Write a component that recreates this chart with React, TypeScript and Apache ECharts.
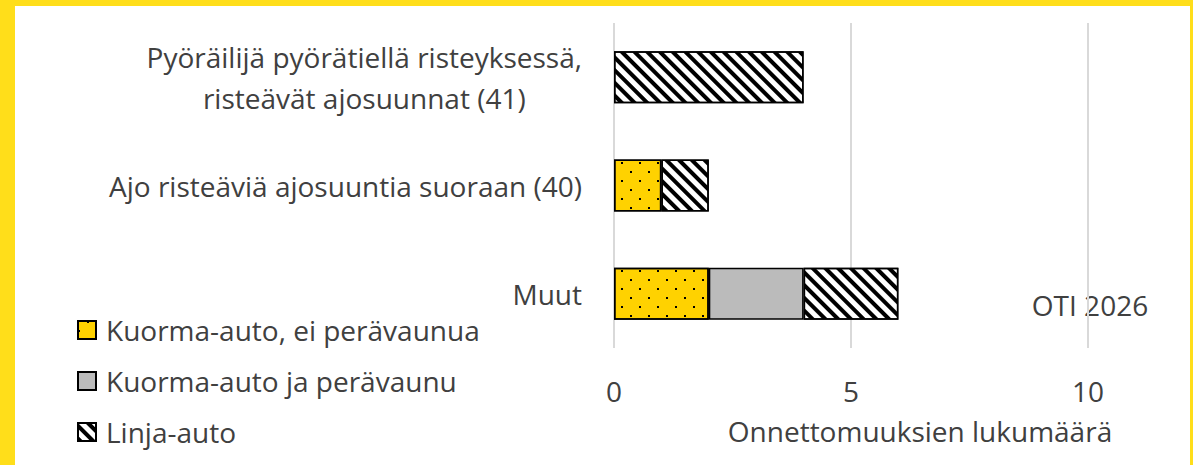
import React, { useEffect, useRef } from "react";
import * as echarts from "echarts";

const categories = [
  "Muut",
  "Ajo risteäviä ajosuuntia suoraan (40)",
  "Pyöräilijä pyörätiellä risteyksessä,\nristeävät ajosuunnat (41)",
];
const seriesNames = ["Kuorma-auto, ei perävaunua", "Kuorma-auto ja perävaunu", "Linja-auto"];
const truckNoTrailer = [2, 1, 0];
const truckTrailer = [2, 0, 0];
const bus = [2, 1, 4];
const xTicks = [0, 5, 10];
const axisName = "Onnettomuuksien lukumäärä";
const sourceNote = "OTI 2026";

const FONT = "'Open Sans', 'Noto Sans', sans-serif";
const TEXT = "#404040";
const YELLOW = "#FFDE1A";
const FS = 28;

const dotDecal = {
  symbol: "rect",
  symbolSize: 1,
  color: "#000",
  dashArrayX: [[1.6, 15.4], [0, 8.5, 1.6, 6.9]],
  dashArrayY: [1.6, 6.8],
  rotation: 0,
};
const stripeDecal = {
  symbol: "rect",
  symbolSize: 1,
  color: "#000",
  dashArrayX: [1, 0],
  dashArrayY: [3.8, 5.0],
  rotation: Math.PI / 4,
};

export default function App() {
  const ref = useRef<HTMLDivElement>(null);
  useEffect(() => {
    if (!ref.current) return;
    const chart = echarts.init(ref.current, undefined, { renderer: "svg" });
    const toData = (arr: number[]) => arr.map((v) => (v === 0 ? null : v));
    const base = {
      type: "bar",
      stack: "total",
      barWidth: 52,
      emphasis: { disabled: true },
    };
    chart.setOption({
      animation: false,
      backgroundColor: "#fff",
      textStyle: { fontFamily: FONT },
      grid: { left: 614, right: 105, top: 23, bottom: 117, containLabel: false },
      xAxis: {
        type: "value",
        min: xTicks[0],
        max: xTicks[xTicks.length - 1],
        interval: 5,
        axisLine: { show: false },
        axisTick: { show: false },
        splitLine: { show: true, lineStyle: { color: "#D9D9D9", width: 2 } },
        axisLabel: { color: TEXT, fontSize: FS, margin: 29, fontFamily: FONT },
      },
      yAxis: {
        type: "category",
        data: categories,
        axisLine: { show: false },
        axisTick: { show: false },
        axisLabel: {
          color: TEXT,
          fontSize: FS,
          margin: 32,
          fontFamily: FONT,
          align: "right",
          formatter: (v: string) => v.split("\n").map((l) => `{c|${l}}`).join("\n"),
          rich: { c: { align: "center", fontSize: FS, lineHeight: 41, color: TEXT, fontFamily: FONT } },
        },
      },
      legend: {
        orient: "vertical",
        left: 72,
        top: 310,
        itemWidth: 18,
        itemHeight: 18,
        itemGap: 21,
        icon: "rect",
        selectedMode: false,
        textStyle: { color: TEXT, fontSize: FS, lineHeight: 30, fontFamily: FONT, padding: [0, 0, 0, 5] },
        data: seriesNames,
      },
      series: [
        {
          ...base,
          name: seriesNames[0],
          data: toData(truckNoTrailer),
          itemStyle: { color: "#FFD200", borderColor: "#000", borderWidth: 1.5, decal: dotDecal },
        },
        {
          ...base,
          name: seriesNames[1],
          data: toData(truckTrailer),
          itemStyle: { color: "#BBBBBB", borderColor: "#000", borderWidth: 1.5 },
        },
        {
          ...base,
          name: seriesNames[2],
          data: toData(bus),
          itemStyle: { color: "#fff", borderColor: "#000", borderWidth: 1.5, decal: stripeDecal },
        },
      ],
      graphic: [
        { type: "rect", left: 0, top: 0, shape: { width: 15, height: 465 }, style: { fill: YELLOW } },
        { type: "rect", left: 0, top: 0, shape: { width: 1193, height: 6 }, style: { fill: YELLOW } },
        { type: "rect", right: 0, top: 0, shape: { width: 3, height: 465 }, style: { fill: YELLOW } },
        {
          type: "text",
          x: 1090,
          y: 305,
          style: { text: sourceNote, fill: TEXT, font: `${FS}px ${FONT}`, align: "center", verticalAlign: "middle" },
        },
        {
          type: "text",
          x: 920,
          y: 431,
          style: { text: axisName, fill: TEXT, font: `${FS}px ${FONT}`, align: "center", verticalAlign: "middle" },
        },
      ],
    });
    return () => chart.dispose();
  }, []);
  return (
    <div
      ref={ref}
      style={{ position: "absolute", left: 0, top: 0, width: 1193, height: 465 }}
    />
  );
}
